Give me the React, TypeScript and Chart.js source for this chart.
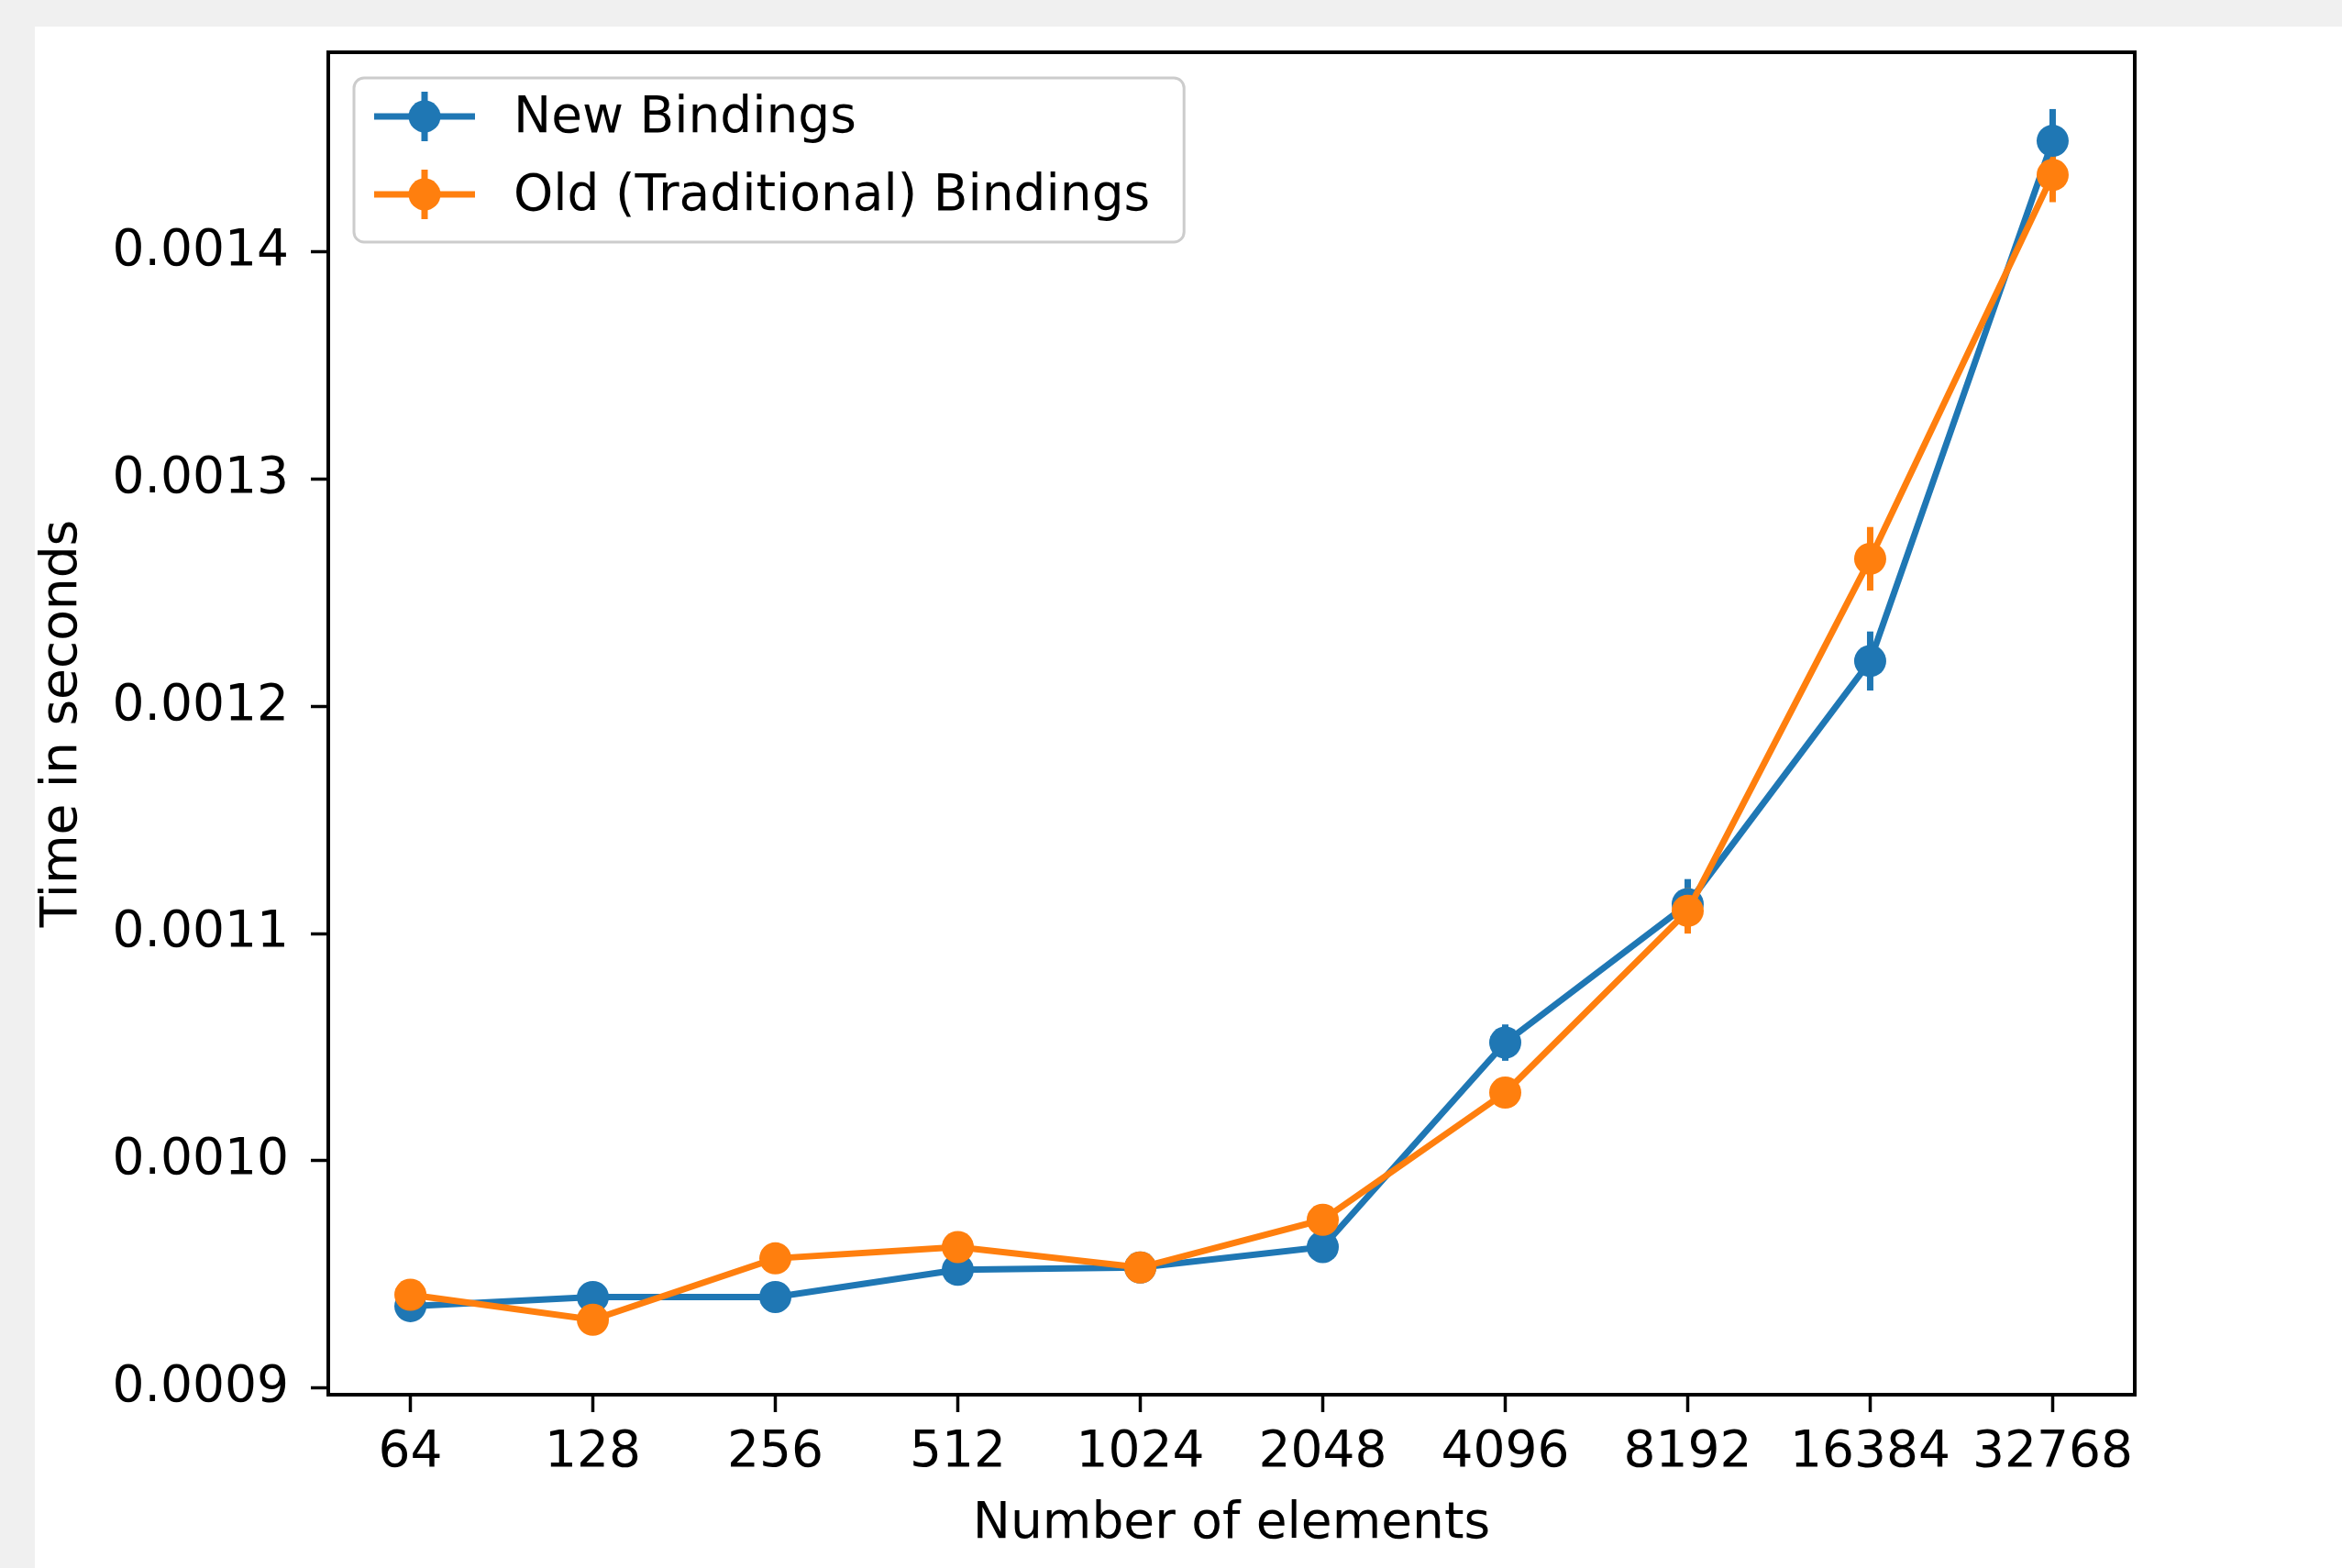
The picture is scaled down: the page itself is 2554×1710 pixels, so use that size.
import React, { useEffect, useRef } from 'react';
import { Chart, registerables } from 'chart.js';
Chart.register(...registerables);

// ---- data ----
const categories = ['64', '128', '256', '512', '1024', '2048', '4096', '8192', '16384', '32768'];
const newBindings = [0.000936, 0.00094, 0.00094, 0.000952, 0.000953, 0.000962, 0.001052, 0.001113, 0.00122, 0.001449];
const newErrors = [0.000002, 0.000003, 0.000002, 0.000002, 0.000004, 0.000003, 0.000008, 0.000011, 0.000013, 0.000014];
const oldBindings = [0.000941, 0.00093, 0.000957, 0.000962, 0.000953, 0.000974, 0.00103, 0.00111, 0.001265, 0.001434];
const oldErrors = [0.000003, 0.000002, 0.000003, 0.000004, 0.000003, 0.000003, 0.000004, 0.00001, 0.000014, 0.000012];
const yTickValues = [0.0009, 0.001, 0.0011, 0.0012, 0.0013, 0.0014];
const seriesLabels = ['New Bindings', 'Old (Traditional) Bindings'];

// ---- style ----
const BLUE = '#1f77b4';
const ORANGE = '#ff7f0e';
const FONT = 'DejaVu Sans';
const FS = 55;
const LINE_W = 7;
const MARKER_R = 17.5;

const errorSets = [newErrors, oldErrors];

const errorBarPlugin = {
  id: 'errorBars',
  beforeDatasetsDraw(chart: any) {
    const ctx = chart.ctx;
    const xs = chart.scales.x;
    const ys = chart.scales.y;
    ctx.save();
    chart.data.datasets.forEach((ds: any, di: number) => {
      const errs = errorSets[di];
      ctx.strokeStyle = ds.borderColor;
      ctx.lineWidth = LINE_W;
      ds.data.forEach((p: any, i: number) => {
        const x = xs.getPixelForValue(p.x);
        const y1 = ys.getPixelForValue(p.y + errs[i]);
        const y2 = ys.getPixelForValue(p.y - errs[i]);
        ctx.beginPath();
        ctx.moveTo(x, y1);
        ctx.lineTo(x, y2);
        ctx.stroke();
      });
    });
    ctx.restore();
  },
};

const framePlugin = {
  id: 'frame',
  afterDatasetsDraw(chart: any) {
    const { ctx, chartArea: a } = chart;
    ctx.save();
    ctx.strokeStyle = '#000';
    ctx.lineWidth = 4;
    ctx.strokeRect(a.left, a.top, a.right - a.left, a.bottom - a.top);
    ctx.restore();
  },
};

const legendPlugin = {
  id: 'mplLegend',
  afterDraw(chart: any) {
    const { ctx, chartArea: a } = chart;
    ctx.save();
    ctx.font = `${FS}px "${FONT}"`;
    const labels = chart.data.datasets.map((d: any) => d.label);
    const textW = Math.max(...labels.map((l: string) => ctx.measureText(l).width));
    const pad = 22;
    const handleLen = 110;
    const gap = 44;
    const x0 = a.left + 28;
    const y0 = a.top + 28;
    const w = pad + handleLen + gap + textW + pad + 13;
    const h = 179;
    const r = 11;
    ctx.beginPath();
    ctx.moveTo(x0 + r, y0);
    ctx.lineTo(x0 + w - r, y0);
    ctx.arcTo(x0 + w, y0, x0 + w, y0 + r, r);
    ctx.lineTo(x0 + w, y0 + h - r);
    ctx.arcTo(x0 + w, y0 + h, x0 + w - r, y0 + h, r);
    ctx.lineTo(x0 + r, y0 + h);
    ctx.arcTo(x0, y0 + h, x0, y0 + h - r, r);
    ctx.lineTo(x0, y0 + r);
    ctx.arcTo(x0, y0, x0 + r, y0, r);
    ctx.closePath();
    ctx.fillStyle = 'rgba(255,255,255,0.8)';
    ctx.fill();
    ctx.strokeStyle = '#cccccc';
    ctx.lineWidth = 3;
    ctx.stroke();
    chart.data.datasets.forEach((ds: any, i: number) => {
      const cy = y0 + 42 + i * 85;
      const hx0 = x0 + pad;
      const hx1 = hx0 + handleLen;
      const cx = (hx0 + hx1) / 2;
      ctx.strokeStyle = ds.borderColor;
      ctx.lineWidth = LINE_W;
      ctx.beginPath();
      ctx.moveTo(hx0, cy);
      ctx.lineTo(hx1, cy);
      ctx.stroke();
      ctx.beginPath();
      ctx.moveTo(cx, cy - 27);
      ctx.lineTo(cx, cy + 27);
      ctx.stroke();
      ctx.fillStyle = ds.borderColor;
      ctx.beginPath();
      ctx.arc(cx, cy, MARKER_R, 0, Math.PI * 2);
      ctx.fill();
      ctx.fillStyle = '#000';
      ctx.textBaseline = 'middle';
      ctx.textAlign = 'left';
      ctx.fillText(ds.label, hx1 + gap - 2, cy + 3);
    });
    ctx.restore();
  },
};

export default function App() {
  const ref = useRef<HTMLCanvasElement>(null);
  useEffect(() => {
    const canvas = ref.current!;
    const font = { family: FONT, size: FS };
    const chart = new Chart(canvas, {
      type: 'line',
      data: {
        datasets: [
          {
            label: seriesLabels[0],
            data: newBindings.map((v, i) => ({ x: i, y: v })),
            borderColor: BLUE,
            backgroundColor: BLUE,
            pointBackgroundColor: BLUE,
            pointBorderColor: BLUE,
            pointBorderWidth: 0,
            pointRadius: MARKER_R,
            borderWidth: LINE_W,
            tension: 0,
            fill: false,
            order: 1,
          },
          {
            label: seriesLabels[1],
            data: oldBindings.map((v, i) => ({ x: i, y: v })),
            borderColor: ORANGE,
            backgroundColor: ORANGE,
            pointBackgroundColor: ORANGE,
            pointBorderColor: ORANGE,
            pointBorderWidth: 0,
            pointRadius: MARKER_R,
            borderWidth: LINE_W,
            tension: 0,
            fill: false,
            order: 0,
          },
        ],
      },
      options: {
        animation: false,
        responsive: false,
        devicePixelRatio: 1,
        layout: { padding: { left: 0, top: 56, right: 226, bottom: 0 } },
        plugins: { legend: { display: false }, tooltip: { enabled: false } },
        scales: {
          x: {
            type: 'linear',
            min: -0.45,
            max: 9.45,
            afterBuildTicks: (s: any) => {
              s.ticks = categories.map((_, i) => ({ value: i }));
            },
            afterFit: (s: any) => {
              s.height = 189;
            },
            ticks: {
              callback: (v: any) => categories[Math.round(Number(v))] ?? '',
              autoSkip: false,
              maxRotation: 0,
              minRotation: 0,
              padding: 12,
              color: '#000',
              font,
            },
            grid: { drawOnChartArea: false, drawTicks: true, tickLength: 19, tickWidth: 3.5, tickColor: '#000' },
            border: { display: false },
            title: { display: true, text: 'Number of elements', color: '#000', font, padding: { top: 0, bottom: 14 } },
          },
          y: {
            type: 'linear',
            min: 0.000897,
            max: 0.001488,
            afterBuildTicks: (s: any) => {
              s.ticks = yTickValues.map((v) => ({ value: v }));
            },
            afterFit: (s: any) => {
              s.width = 358;
            },
            ticks: {
              callback: (v: any) => Number(v).toFixed(4),
              padding: 24,
              color: '#000',
              font,
            },
            grid: { drawOnChartArea: false, drawTicks: true, tickLength: 19, tickWidth: 3.5, tickColor: '#000' },
            border: { display: false },
            title: { display: true, text: 'Time in seconds', color: '#000', font, padding: { top: 36, bottom: 0 } },
          },
        },
      },
      plugins: [errorBarPlugin, framePlugin, legendPlugin],
    } as any);
    return () => chart.destroy();
  }, []);
  return (
    <div style={{ position: 'fixed', inset: 0, background: '#f0f0f0', overflow: 'hidden' }}>
      <div style={{ position: 'absolute', left: 38, top: 29, right: 0, bottom: 0, background: '#fff' }} />
      <canvas
        ref={ref}
        width={2554}
        height={1710}
        style={{ position: 'absolute', left: 0, top: 0, width: 2554, height: 1710 }}
      />
    </div>
  );
}
